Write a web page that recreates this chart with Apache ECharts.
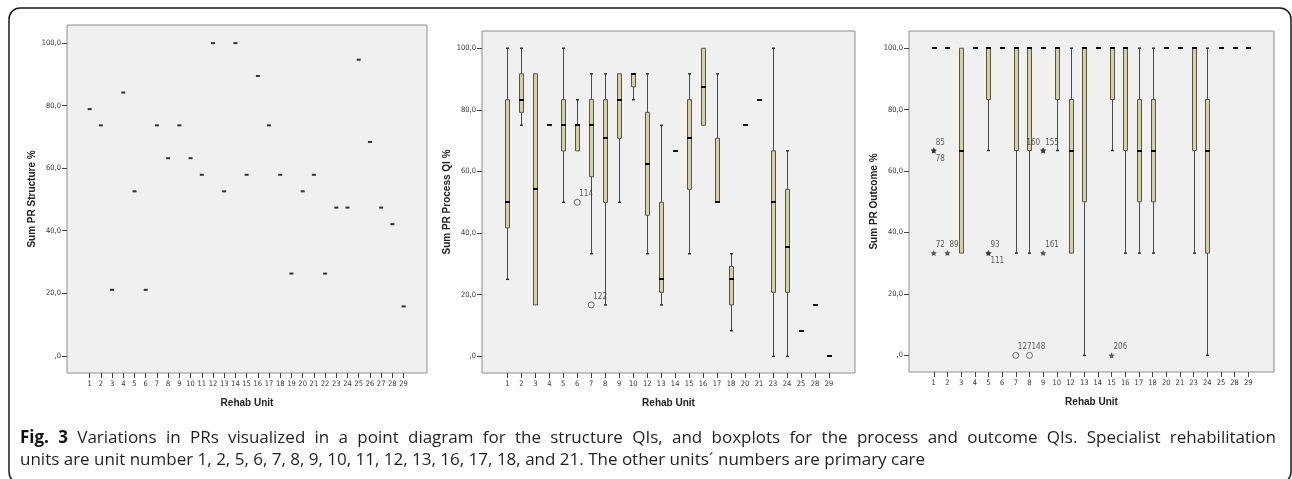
<!DOCTYPE html>
<html>
<head>
<meta charset="utf-8">
<script src="https://cdn.jsdelivr.net/npm/echarts@6/dist/echarts.min.js"></script>
<style>
  html, body { margin: 0; padding: 0; background: #fff; }
  #wrap { position: relative; width: 1292px; height: 479px; overflow: hidden; }
  #chart { position: absolute; left: 0; top: 0; width: 1292px; height: 479px; }
  #caption { position: absolute; left: 20px; top: 426px; width: 1256px;
    font-family: 'Open Sans', 'Noto Sans', sans-serif; font-size: 17px; line-height: 22px; color: #231f20; }
  #caption .l1 { text-align: justify; text-align-last: justify; }
  #caption b { color: #111; }
</style>
</head>
<body>
<div id="wrap">
  <div id="chart"></div>
  <div id="caption"><div class="l1"><b>Fig. 3</b> Variations in PRs visualized in a point diagram for the structure QIs, and boxplots for the process and outcome QIs. Specialist rehabilitation</div><div>units are unit number 1, 2, 5, 6, 7, 8, 9, 10, 11, 12, 13, 16, 17, 18, and 21. The other units´ numbers are primary care</div></div>
</div>
<script>
// ---------------- DATA ----------------
const structUnits = ['1','2','3','4','5','6','7','8','9','10','11','12','13','14','15','16','17','18','19','20','21','22','23','24','25','26','27','28','29'];
const structValues = [78.9,73.7,21.1,84.2,52.6,21.1,73.7,63.2,73.7,63.2,57.9,100,52.6,100,57.9,89.5,73.7,57.9,26.3,52.6,57.9,26.3,47.4,47.4,94.7,68.4,47.4,42.1,15.8];

const boxUnits = ['1','2','3','4','5','6','7','8','9','10','12','13','14','15','16','17','18','20','21','23','24','25','28','29'];

const procMin    = [25,  75,  16.7,75,50,  66.7,33.3,16.7,50,  83.3,33.3,16.7,66.7,33.3,75,  50,  8.3, 75,83.3,0,   0,   8.3,16.7,0];
const procQ1     = [41.7,79.2,16.7,75,66.7,66.7,58.3,50,  70.8,87.5,45.8,20.8,66.7,54.2,75,  50,  16.7,75,83.3,20.8,20.8,8.3,16.7,0];
const procMedian = [50,  83.3,54.2,75,75,  75,  75,  70.8,83.3,91.7,62.5,25,  66.7,70.8,87.5,50,  25,  75,83.3,50,  35.4,8.3,16.7,0];
const procQ3     = [83.3,91.7,91.7,75,83.3,75,  83.3,83.3,91.7,91.7,79.2,50,  66.7,83.3,100, 70.8,29.2,75,83.3,66.7,54.2,8.3,16.7,0];
const procMax    = [100, 100, 91.7,75,100, 83.3,91.7,91.7,91.7,91.7,91.7,75,  66.7,91.7,100, 91.7,33.3,75,83.3,100, 66.7,8.3,16.7,0];

const procOutUnit  = ['6','7'];
const procOutValue = [50, 16.7];
const procOutCase  = ['114','122'];
const procOutKind  = ['circle','circle'];

const outcMin    = [100,100,33.3,100,66.7,100,33.3,33.3,100,66.7,33.3,0,  100,66.7,33.3,33.3,33.3,100,100,33.3,0,   100,100,100];
const outcQ1     = [100,100,33.3,100,83.3,100,66.7,66.7,100,83.3,33.3,50, 100,83.3,66.7,50,  50,  100,100,66.7,33.3,100,100,100];
const outcMedian = [100,100,66.7,100,100, 100,100, 100, 100,100, 66.7,100,100,100, 100, 66.7,66.7,100,100,100, 66.7,100,100,100];
const outcQ3     = [100,100,100, 100,100, 100,100, 100, 100,100, 83.3,100,100,100, 100, 83.3,83.3,100,100,100, 83.3,100,100,100];
const outcMax    = [100,100,100, 100,100, 100,100, 100, 100,100, 100, 100,100,100, 100, 100, 100, 100,100,100, 100, 100,100,100];

const outcOutUnit  = ['1','1','1','2','5','5','7','8','9','9','9','15'];
const outcOutValue = [66.7,66.7,33.3,33.3,33.3,33.3,0,0,66.7,66.7,33.3,0];
const outcOutCase  = ['85','78','72','89','93','111','127','148','160','155','161','206'];
const outcOutKind  = ['star','star','star','star','star','star','circle','circle','star','star','star','star'];

const yTicks = [0,20,40,60,80,100];

// ---------------- STYLE ----------------
const procLabelPlace = ['ur','ur'];
const outcLabelPlace = ['ur','lr','ur','ur','ur','lr','ur','ur','ul','ur','ur','ur'];

const NARROW = "'Liberation Sans Narrow', 'DejaVu Sans Condensed', 'Liberation Sans', Arial, sans-serif";
const BOLD = "'Liberation Sans', Arial, sans-serif";
const STAR = 'path://M0,-10L2.94,-4.05L9.51,-3.09L4.76,1.55L5.88,8.09L0,5L-5.88,8.09L-4.76,1.55L-9.51,-3.09L-2.94,-4.05Z';
const BOXFILL = '#d7d29b';

const chart = echarts.init(document.getElementById('chart'), null, { renderer: 'canvas' });

const idxList = n => Array.from({ length: n }, (_, i) => i + 1);

function boxData(mins, q1s, meds, q3s, maxs) {
  return mins.map((m, i) => [i + 1, m, q1s[i], meds[i], q3s[i], maxs[i]]);
}

function boxRender(params, api) {
  const x = api.value(0);
  const v = [1, 2, 3, 4, 5].map(i => api.value(i));
  const cx = Math.round(api.coord([x, v[2]])[0]);
  const y = v.map(val => api.coord([x, val])[1]);
  const ch = [];
  if (v[0] === v[4]) {
    ch.push({ type: 'rect', shape: { x: cx - 2, y: Math.round(y[0]) - 1, width: 5, height: 2 }, style: { fill: '#111' } });
    return { type: 'group', children: ch };
  }
  const wl = { stroke: '#4a4a4a', lineWidth: 1 };
  if (v[4] > v[3]) {
    ch.push({ type: 'line', shape: { x1: cx + 0.5, y1: y[4], x2: cx + 0.5, y2: y[3] }, style: wl });
    ch.push({ type: 'line', shape: { x1: cx - 1, y1: y[4], x2: cx + 2, y2: y[4] }, style: { stroke: '#333', lineWidth: 1.5 } });
  }
  if (v[1] > v[0]) {
    ch.push({ type: 'line', shape: { x1: cx + 0.5, y1: y[1], x2: cx + 0.5, y2: y[0] }, style: wl });
    ch.push({ type: 'line', shape: { x1: cx - 1, y1: y[0], x2: cx + 2, y2: y[0] }, style: { stroke: '#333', lineWidth: 1.5 } });
  }
  if (v[3] > v[1]) {
    ch.push({ type: 'rect', shape: { x: cx - 1.5, y: y[3], width: 4, height: y[1] - y[3] },
      style: { fill: BOXFILL, stroke: '#555', lineWidth: 1 } });
  }
  ch.push({ type: 'line', shape: { x1: cx - 2, y1: Math.round(y[2]), x2: cx + 3, y2: Math.round(y[2]) },
    style: { stroke: '#000', lineWidth: 2 } });
  return { type: 'group', children: ch };
}

function outlierData(units, outUnit, outValue, outCase, outKind, places) {
  return outUnit.map((u, i) => {
    const p = places[i];
    const offset = p === 'ur' ? [2, -8] : p === 'lr' ? [2, 8] : [-3, -8];
    return {
      value: [units.indexOf(u) + 1, outValue[i]],
      symbol: outKind[i] === 'star' ? STAR : 'circle',
      symbolSize: 6,
      itemStyle: outKind[i] === 'star'
        ? { color: '#333' }
        : { color: 'rgba(0,0,0,0)', borderColor: '#444', borderWidth: 1 },
      label: {
        show: true, formatter: outCase[i], position: 'inside',
        align: p === 'ul' ? 'right' : 'left', verticalAlign: 'middle',
        offset: offset, color: '#333', fontSize: 8, fontFamily: NARROW
      }
    };
  });
}

function makeX(gi, units, min, max) {
  const ids = idxList(units.length);
  return {
    gridIndex: gi, type: 'value', min: min, max: max, position: 'bottom',
    name: 'Rehab Unit', nameLocation: 'middle', nameGap: 25,
    nameTextStyle: { fontFamily: BOLD, fontWeight: 'bold', fontSize: 10, color: '#222' },
    axisLine: { show: false, onZero: false },
    axisTick: { show: true, customValues: ids, length: 5, lineStyle: { color: '#444', width: 1 } },
    axisLabel: { customValues: ids, formatter: v => units[Math.round(v) - 1] || '', fontSize: 7.5,
      fontFamily: NARROW, color: '#333', margin: 7 },
    splitLine: { show: false }
  };
}

function makeY(gi, name, min, max) {
  return {
    gridIndex: gi, type: 'value', min: min, max: max, position: 'left',
    name: name, nameLocation: 'middle', nameGap: 30,
    nameTextStyle: { fontFamily: BOLD, fontWeight: 'bold', fontSize: 10, color: '#222' },
    axisLine: { show: false, onZero: false },
    axisTick: { show: true, customValues: yTicks, length: 5, lineStyle: { color: '#444', width: 1 } },
    axisLabel: { customValues: yTicks, formatter: v => (v === 0 ? ',0' : v + ',0'), fontSize: 7.5,
      fontFamily: NARROW, color: '#333', margin: 6 },
    splitLine: { show: false }
  };
}

const gridStyle = { show: true, backgroundColor: '#f0f0f0', borderColor: '#8f8f8f', borderWidth: 1, containLabel: false };

const option = {
  animation: false,
  backgroundColor: '#fff',
  grid: [
    Object.assign({ left: 67, top: 25, width: 360, height: 348 }, gridStyle),
    Object.assign({ left: 482, top: 31, width: 373, height: 342 }, gridStyle),
    Object.assign({ left: 909, top: 31, width: 365, height: 341 }, gridStyle)
  ],
  xAxis: [
    makeX(0, structUnits, -1.02, 31.09),
    makeX(1, boxUnits, -0.81, 25.86),
    makeX(2, boxUnits, -0.81, 25.88)
  ],
  yAxis: [
    makeY(0, 'Sum PR Structure %', -5.5, 105.8),
    makeY(1, 'Sum PR Process QI %', -5.4, 105.6),
    makeY(2, 'Sum PR Outcome %', -5.4, 105.6)
  ],
  series: [
    {
      type: 'scatter', xAxisIndex: 0, yAxisIndex: 0,
      symbol: 'rect', symbolSize: [4, 2], itemStyle: { color: '#000' },
      data: structValues.map((v, i) => [i + 1, v])
    },
    {
      type: 'custom', xAxisIndex: 1, yAxisIndex: 1, renderItem: boxRender,
      encode: { x: 0, y: [1, 2, 3, 4, 5] },
      data: boxData(procMin, procQ1, procMedian, procQ3, procMax)
    },
    {
      type: 'scatter', xAxisIndex: 1, yAxisIndex: 1,
      data: outlierData(boxUnits, procOutUnit, procOutValue, procOutCase, procOutKind, procLabelPlace)
    },
    {
      type: 'custom', xAxisIndex: 2, yAxisIndex: 2, renderItem: boxRender,
      encode: { x: 0, y: [1, 2, 3, 4, 5] },
      data: boxData(outcMin, outcQ1, outcMedian, outcQ3, outcMax)
    },
    {
      type: 'scatter', xAxisIndex: 2, yAxisIndex: 2,
      data: outlierData(boxUnits, outcOutUnit, outcOutValue, outcOutCase, outcOutKind, outcLabelPlace)
    }
  ],
  graphic: [
    {
      type: 'rect', silent: true, z: 100,
      shape: { x: 9, y: 8, width: 1282, height: 475, r: 11 },
      style: { fill: 'none', stroke: '#1a1a1a', lineWidth: 1.5 }
    }
  ]
};

chart.setOption(option);
</script>
</body>
</html>
